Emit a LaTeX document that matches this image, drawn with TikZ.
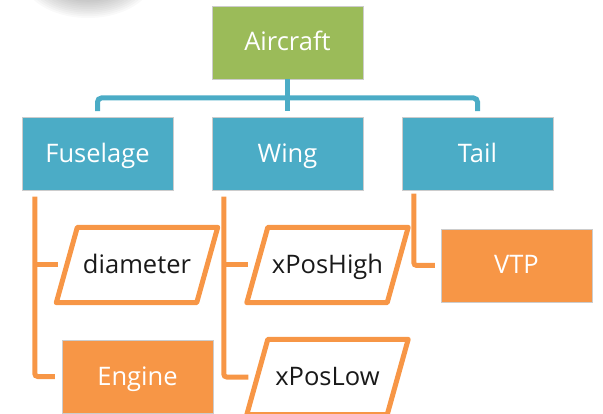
\documentclass[tikz,border=0pt]{standalone}
\usepackage{fontspec}
\setmainfont{Open Sans}
\usetikzlibrary{calc}

\definecolor{leafgreen}{HTML}{9BBB59}
\definecolor{skyteal}{HTML}{4BACC6}
\definecolor{warmorange}{HTML}{F79646}

\tikzset{
  label text/.style={text height=20pt, text depth=3pt},
  box/.style={rectangle, minimum width=151pt, minimum height=73pt,
    inner sep=0pt, text=white, draw=white!80!black, line width=0.5pt, label text},
  rootbox/.style={box, fill=leafgreen},
  partbox/.style={box, fill=skyteal},
  leafbox/.style={box, fill=warmorange},
  paratext/.style={rectangle, minimum width=140pt, minimum height=75pt,
    inner sep=0pt, text=black!90, label text},
  paraline/.style={draw=warmorange, line width=5pt, line join=round},
  bluelink/.style={draw=skyteal, line width=5pt, rounded corners=4pt},
  orangelink/.style={draw=warmorange, line width=5pt, rounded corners=3pt},
}

% parallelogram outline drawn round a text node
\newcommand\paraoutline[1]{%
  \draw[paraline] ($(#1.north west)+(10.5,0)$) -- ($(#1.north east)+(10.5,0)$)
    -- ($(#1.south east)+(-10.5,0)$) -- ($(#1.south west)+(-10.5,0)$) -- cycle;}

\begin{document}
\begin{tikzpicture}[x=1pt, y=-1pt, font=\fontsize{25.5}{29}\selectfont]
  \useasboundingbox (0,0) rectangle (603,414);
  \clip (0,0) rectangle (603,414);

  % soft grey shadow in the top-left corner
  \foreach \i in {0,...,15} {
    \fill[black, opacity=0.022] (88,-24) ellipse ({66-2.6*\i} and {42-1.8*\i});
  }

  % tree nodes
  \node[rootbox] (air) at (287.5,42.5) {Aircraft};
  \node[partbox] (fus) at (97.5,154) {Fuselage};
  \node[partbox] (wing) at (287.5,154) {Wing};
  \node[partbox] (tail) at (477.5,154) {Tail};

  \node[paratext] (diam) at (137,265) {diameter};
  \node[leafbox] (eng) at (137.5,376.5) {Engine};
  \node[paratext] (xhigh) at (327.5,265) {xPosHigh};
  \node[paratext] (xlow) at (327.5,377) {xPosLow};
  \node[leafbox] (vtp) at (516.5,265.5) {VTP};

  \paraoutline{diam}
  \paraoutline{xhigh}
  \paraoutline{xlow}

  % blue connectors from the root to the parts
  \coordinate (bus) at (287.5,98);
  \draw[bluelink] ($(fus.north)+(0,-6)$) |- (bus) -| ($(tail.north)+(0,-6)$);
  \draw[bluelink] (air.south) -- ($(wing.north)+(0,-6)$);

  % orange connectors from each part to its children
  \coordinate (fusTrunk) at ($(fus.south west)+(13,6)$);
  \draw[orangelink] (fusTrunk) |- ($(eng.west)+(-7,0)$);
  \draw[orangelink] (fusTrunk |- diam.west) -- ($(diam.west)+(-9,0)$);

  \coordinate (wingTrunk) at ($(wing.south west)+(12,6)$);
  \draw[orangelink] (wingTrunk) |- ($(xlow.west)+(-9,0)$);
  \draw[orangelink] (wingTrunk |- xhigh.west) -- ($(xhigh.west)+(-9,0)$);

  \coordinate (tailTrunk) at ($(tail.south west)+(12,3)$);
  \draw[orangelink] (tailTrunk) |- ($(vtp.west)+(-6,0)$);
\end{tikzpicture}
\end{document}
